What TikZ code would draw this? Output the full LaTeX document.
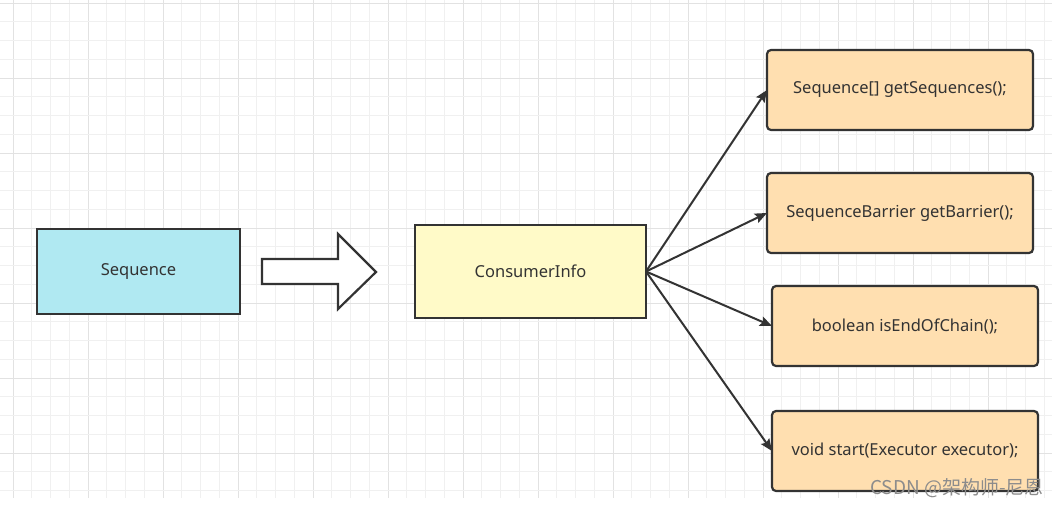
\documentclass[tikz,border=0pt]{standalone}
\usepackage{fontspec}
\setmainfont{Noto Sans}
\newfontfamily\cjk{Noto Sans CJK SC}
\usetikzlibrary{arrows.meta}
\definecolor{ink}{HTML}{333333}
\definecolor{gridminor}{HTML}{F0F0F0}
\definecolor{gridmajor}{HTML}{E2E2E2}
\definecolor{cyanfill}{RGB}{176,233,242}
\definecolor{yellowfill}{RGB}{255,250,200}
\definecolor{orangefill}{RGB}{255,223,176}
\tikzset{
  minorline/.style={gridminor, line width=1pt},
  majorline/.style={gridmajor, line width=1pt},
  plainbox/.style={draw=ink, line width=2.2pt, inner sep=0pt, outer sep=0pt, text=ink, font=\fontsize{16.5}{19}\selectfont},
  methodbox/.style={plainbox, fill=orangefill, rounded corners=4pt, minimum width=266pt, minimum height=80pt},
  link/.style={draw=ink, line width=2pt, -{Stealth[length=12pt,width=10pt,inset=2pt]}},
}
\begin{document}
\begin{tikzpicture}[x=1pt,y=-1pt]
\useasboundingbox (0,0) rectangle (1063,507);
\fill[white] (0,0) rectangle (1063,507);
% grid
\foreach \i in {0,...,55}{
  \pgfmathtruncatemacro\m{mod(\i,4)}
  \ifnum\m=0
    \draw[majorline] ({13+18.75*\i},0) -- ({13+18.75*\i},498);
  \else
    \draw[minorline] ({13+18.75*\i},0) -- ({13+18.75*\i},498);
  \fi
}
\foreach \i in {0,...,26}{
  \pgfmathtruncatemacro\m{mod(\i,4)}
  \ifnum\m=0
    \draw[majorline] (0,{3+18.75*\i}) -- (1052,{3+18.75*\i});
  \else
    \draw[minorline] (0,{3+18.75*\i}) -- (1052,{3+18.75*\i});
  \fi
}
% nodes
\node[plainbox, fill=cyanfill, minimum width=203pt, minimum height=85pt] (seq) at (138.5,271.5) {Sequence};
\node[plainbox, fill=yellowfill, minimum width=231pt, minimum height=93pt] (ci) at (530.5,271.5) {ConsumerInfo};
\node[methodbox] (m1) at (900,90) {Sequence[] getSequences();};
\node[methodbox] (m2) at (900,213) {SequenceBarrier getBarrier();};
\node[methodbox] (m3) at (905,326) {boolean isEndOfChain();};
\node[methodbox] (m4) at (905,451) {void start(Executor executor);};
% hollow arrow
\draw[ink, fill=white, line width=2.2pt, line join=miter]
  (262,259) -- (338,259) -- (338,234) -- (376,272) -- (338,309) -- (338,284) -- (262,284) -- cycle;
% connectors
\draw[link] (ci.east) -- (m1.west);
\draw[link] (ci.east) -- (m2.west);
\draw[link] (ci.east) -- (m3.west);
\draw[link] (ci.east) -- (m4.west);
% watermark
\node[anchor=base west, text=black!45, font=\cjk\fontsize{19}{21}\selectfont, inner sep=0pt] (wm) at (870,494) {CSDN @架构师-尼恩};
\end{tikzpicture}
\end{document}
